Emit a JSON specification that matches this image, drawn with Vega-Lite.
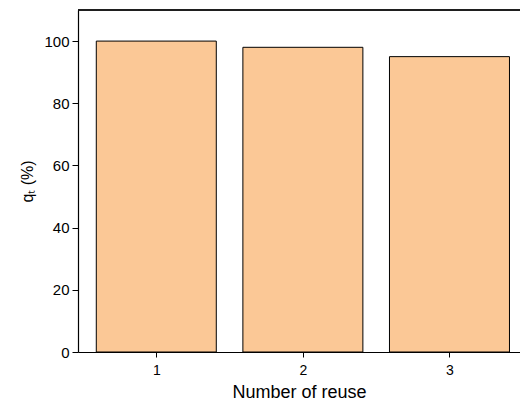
{
  "$schema": "https://vega.github.io/schema/vega-lite/v6.json",
  "width": 442,
  "height": 342,
  "autosize": {"type": "none"},
  "padding": {"left": 78, "top": 10, "right": 0, "bottom": 53},
  "background": "white",
  "config": {
    "view": {"stroke": null},
    "font": "Liberation Sans",
    "axis": {"grid": false, "domainColor": "black", "domainWidth": 1.2, "tickColor": "black", "labelColor": "black", "titleColor": "black", "labelFont": "Liberation Sans", "titleFont": "Liberation Sans", "titleFontWeight": "normal"}
  },
  "data": {"values": [
    {"reuse": 1, "qt": 100},
    {"reuse": 2, "qt": 98},
    {"reuse": 3, "qt": 95}
  ]},
  "layer": [
    {
      "mark": {"type": "bar", "size": 120, "fill": "#FBC896", "stroke": "black", "strokeWidth": 1},
      "encoding": {
        "x": {"field": "reuse", "type": "quantitative",
          "scale": {"domain": [0.5, 3.447], "nice": false, "zero": false},
          "axis": {"values": [1, 1.5, 2, 2.5, 3], "format": "d", "labelExpr": "datum.value % 1 === 0 ? datum.label : ''",
            "tickSize": {"condition": {"test": "datum.value % 1 === 0", "value": 5}, "value": 3},
            "labelFontSize": 14, "labelPadding": 6, "title": "Number of reuse", "titleFontSize": 18, "titlePadding": 6}},
        "y": {"field": "qt", "type": "quantitative",
          "scale": {"domain": [0, 110], "nice": false},
          "axis": {"values": [0, 10, 20, 30, 40, 50, 60, 70, 80, 90, 100], "format": "d", "labelExpr": "datum.value % 20 === 0 ? datum.label : ''",
            "tickSize": {"condition": {"test": "datum.value % 20 === 0", "value": 6}, "value": 3},
            "labelFontSize": 15, "labelPadding": 3, "title": "qₜ (%)", "titleFontSize": 16, "titlePadding": 8}}
      }
    },
    {
      "mark": {"type": "rule", "color": "black", "strokeWidth": 1.2},
      "encoding": {"y": {"datum": 110}}
    }
  ]
}
